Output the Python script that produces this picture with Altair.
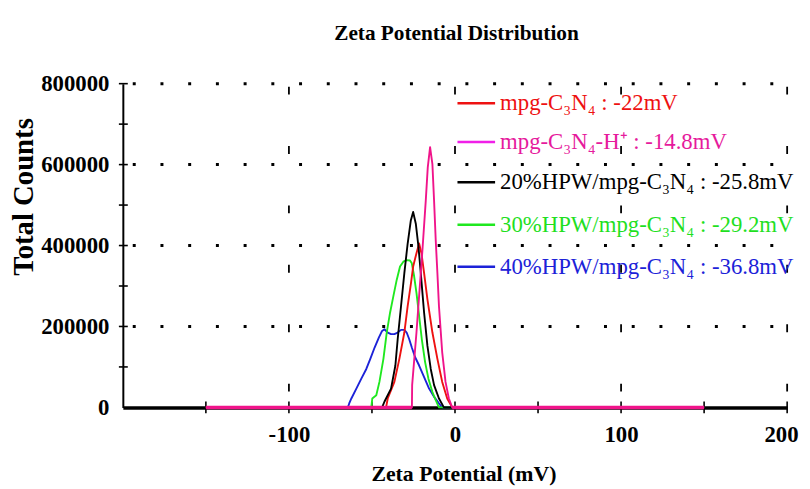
import altair as alt
import pandas as pd

FONT = "Liberation Serif"

# ---- data (zeta potential in mV, total counts) ----
red_x = [-150, -41.5, -40.5, -36.5, -33.5, -30.5, -28.5, -26.5, -25.2, -23.2, -21.6,
         -20.2, -18.6, -16.6, -13.6, -10.6, -7.7, -4.7, -1.7, 150]
red_y = [0, 0, 22000, 63000, 120000, 185000, 250000, 307000, 348000, 381000, 405000,
         381000, 332000, 267000, 185000, 120000, 63000, 22000, 0, 0]

mag_x = [-150, -25.95, -25.8, -23.2, -19.6, -17.6, -16.4, -15.0, -13.6, -12.6, -11.6,
         -10.6, -9.65, -7.7, -5.7, -3.7, -1.7, 150]
mag_y = [0, 0, 55000, 185000, 389000, 511000, 593000, 643000, 601000, 511000, 413000,
         332000, 250000, 136000, 63000, 22000, 0, 0]

blk_x = [-150, -43.9, -42.5, -38.5, -35.9, -34.5, -32.5, -30.5, -28.5, -26.6, -25.2,
         -23.6, -22.0, -20.6, -18.6, -16.6, -14.6, -12.6, -9.65, -6.7, 150]
blk_y = [0, 0, 14000, 46500, 103500, 169000, 250000, 332000, 405000, 462000, 483000,
         454000, 397000, 332000, 234000, 152000, 95000, 55000, 22000, 0, 0]

grn_x = [-150, -50.4, -49.8, -47.4, -45.5, -43.1, -41.1, -39.1, -37.1, -35.1, -33.1,
         -31.1, -29.1, -27.1, -26.0, -24.6, -23.2, -21.6, -20.0, -18.0, -16.0, -13.6,
         -11.6, -9.65, 150]
grn_y = [0, 0, 22000, 30000, 63000, 120000, 185000, 234000, 275000, 315000, 348000,
         360000, 364000, 363000, 356000, 324000, 283000, 226000, 169000, 112000, 71000,
         38000, 18000, 0, 0]

blu_x = [-150, -64.5, -63.7, -62.4, -59.4, -56.4, -53.4, -51.0, -48.4, -45.8, -43.9,
         -42.5, -40.5, -38.5, -36.5, -34.5, -32.5, -30.5, -29.1, -27.6, -26.0, -24.0,
         -21.6, -18.6, -15.6, -12.6, -9.65, -7.7, 150]
blu_y = [0, 0, 9800, 22000, 46500, 71000, 95000, 120000, 148000, 173000, 189000,
         193000, 185000, 181000, 181000, 185000, 191600, 191600, 185000, 169000, 148000,
         124000, 103500, 75000, 46500, 26000, 9800, 0, 0]

legend_labels = [
    "mpg-C\u2083N\u2084 : -22mV",
    "mpg-C\u2083N\u2084-H\u207a : -14.8mV",
    "20%HPW/mpg-C\u2083N\u2084 : -25.8mV",
    "30%HPW/mpg-C\u2083N\u2084 : -29.2mV",
    "40%HPW/mpg-C\u2083N\u2084 : -36.8mV",
]
title_text = ["Zeta Potential Distribution"]

x_labels = [-100, 0, 100, 200]
x_ticks = [-150, -100, -50, 0, 50, 100, 150, 200]
x_grid = [-100, 0, 100, 200]
y_labels = [0, 200000, 400000, 600000, 800000]
y_ticks = [100000, 200000, 300000, 400000, 500000, 600000, 700000, 800000]
y_grid = [200000, 400000, 600000, 800000]

# ---- styles ----
line_colors = {"red": "#ee1111", "mag": "#f0148a", "blk": "#000000",
               "grn": "#1fe81f", "blu": "#1c22d8"}
legend_line_colors = ["#ee1111", "#f020e8", "#000000", "#1fe81f", "#1c22d8"]
legend_text_colors = ["#ee1111", "#e61a9c", "#000000", "#1fe01f", "#1c22d8"]
legend_y = [19.7, 59, 99.5, 142.5, 185]

W, H = 671, 327
xscale = alt.Scale(domain=[-200, 200], nice=False, zero=False)
yscale = alt.Scale(domain=[0, 800000], nice=False)

xaxis = alt.Axis(values=x_labels, labelExpr="'' + datum.value", labelFont=FONT,
                 labelFontSize=23, labelFontWeight="bold", labelColor="black",
                 labelPadding=16, labelFlush=True, labelFlushOffset=11,
                 labelOverlap=False, ticks=False, tickSize=0,
                 grid=False, domainColor="black", domainWidth=3.5,
                 title="Zeta Potential (mV)", titleFont=FONT, titleFontSize=22,
                 titleFontWeight="bold", titleColor="black", titleX=344, titleY=74,
                 titleBaseline="alphabetic", titleAlign="center")
yaxis = alt.Axis(values=y_labels, labelExpr="'' + datum.value", labelFont=FONT,
                 labelFontSize=23, labelFontWeight="bold", labelColor="black",
                 labelPadding=14, labelOverlap=False, ticks=False, tickSize=0,
                 grid=False, domainColor="black", domainWidth=2,
                 title="Total Counts", titleFont=FONT, titleFontSize=29,
                 titleFontWeight="bold", titleColor="black", titleAngle=270,
                 titleX=-100, titleY=114, titleAlign="center", titleBaseline="middle")

layers = []

# vertical dashed grid
layers.append(
    alt.Chart(pd.DataFrame({"zeta": x_grid})).mark_rule(
        color="black", strokeWidth=1.8, strokeDash=[8, 52], strokeDashOffset=57
    ).encode(
        x=alt.X("zeta:Q", scale=xscale, axis=xaxis),
        y=alt.Y(datum=800000, scale=yscale, axis=yaxis),
        y2=alt.Y2(datum=0),
    )
)
# horizontal dotted grid
layers.append(
    alt.Chart(pd.DataFrame({"counts": y_grid})).mark_rule(
        color="black", strokeWidth=3, strokeDash=[3, 25], strokeDashOffset=18,
        strokeCap="butt"
    ).encode(
        y=alt.Y("counts:Q", scale=yscale, axis=yaxis),
        x=alt.X(datum=-200, scale=xscale, axis=xaxis),
        x2=alt.X2(datum=200),
    )
)
# x ticks crossing the axis
layers.append(
    alt.Chart(pd.DataFrame({"zeta": x_ticks})).mark_rule(color="black", strokeWidth=1.6).encode(
        x=alt.X("zeta:Q", scale=xscale, axis=xaxis),
        y=alt.value(H - 6), y2=alt.value(H + 6),
    )
)
# y ticks crossing the axis
layers.append(
    alt.Chart(pd.DataFrame({"counts": y_ticks})).mark_rule(color="black", strokeWidth=1.6).encode(
        y=alt.Y("counts:Q", scale=yscale, axis=yaxis),
        x=alt.value(-4), x2=alt.value(5),
    )
)

series = [("blu", blu_x, blu_y), ("grn", grn_x, grn_y), ("red", red_x, red_y),
          ("blk", blk_x, blk_y), ("mag", mag_x, mag_y)]
for key, xs, ys in series:
    df = pd.DataFrame({"zeta": xs, "counts": ys})
    layers.append(
        alt.Chart(df).mark_line(color=line_colors[key], strokeWidth=1.9,
                                strokeJoin="round").encode(
            x=alt.X("zeta:Q", scale=xscale, axis=xaxis),
            y=alt.Y("counts:Q", scale=yscale, axis=yaxis),
        )
    )

# thicker magenta baseline (flat parts of the magenta series)
base_df = pd.DataFrame({"x1": [mag_x[0], mag_x[-2]], "x2": [mag_x[1], mag_x[-1]]})
layers.append(
    alt.Chart(base_df).mark_rule(color=line_colors["mag"], strokeWidth=3.5).encode(
        x=alt.X("x1:Q", scale=xscale, axis=xaxis),
        x2="x2:Q",
        y=alt.Y(datum=0, scale=yscale, axis=yaxis),
    )
)

# legend
for i, lab in enumerate(legend_labels):
    one = pd.DataFrame({"label": [lab]})
    layers.append(
        alt.Chart(one).mark_rule(color=legend_line_colors[i], strokeWidth=2.5).encode(
            x=alt.value(338), x2=alt.value(376), y=alt.value(legend_y[i])
        )
    )
    layers.append(
        alt.Chart(one).mark_text(align="left", baseline="middle", font=FONT,
                                 fontSize=23, color=legend_text_colors[i]).encode(
            text="label:N", x=alt.value(381), y=alt.value(legend_y[i])
        )
    )

# title
layers.append(
    alt.Chart(pd.DataFrame({"t": title_text})).mark_text(
        align="center", baseline="alphabetic", font=FONT, fontSize=21.5,
        fontWeight="bold", color="black"
    ).encode(text="t:N", x=alt.value(337), y=alt.value(-44))
)

chart = alt.layer(*layers).properties(
    width=W, height=H,
    autosize="none",
    padding={"left": 116, "top": 74, "right": 15, "bottom": 80},
    background="white",
).configure_view(strokeWidth=0)

chart.save("out.html", embed_options={"renderer": "svg", "actions": False})
